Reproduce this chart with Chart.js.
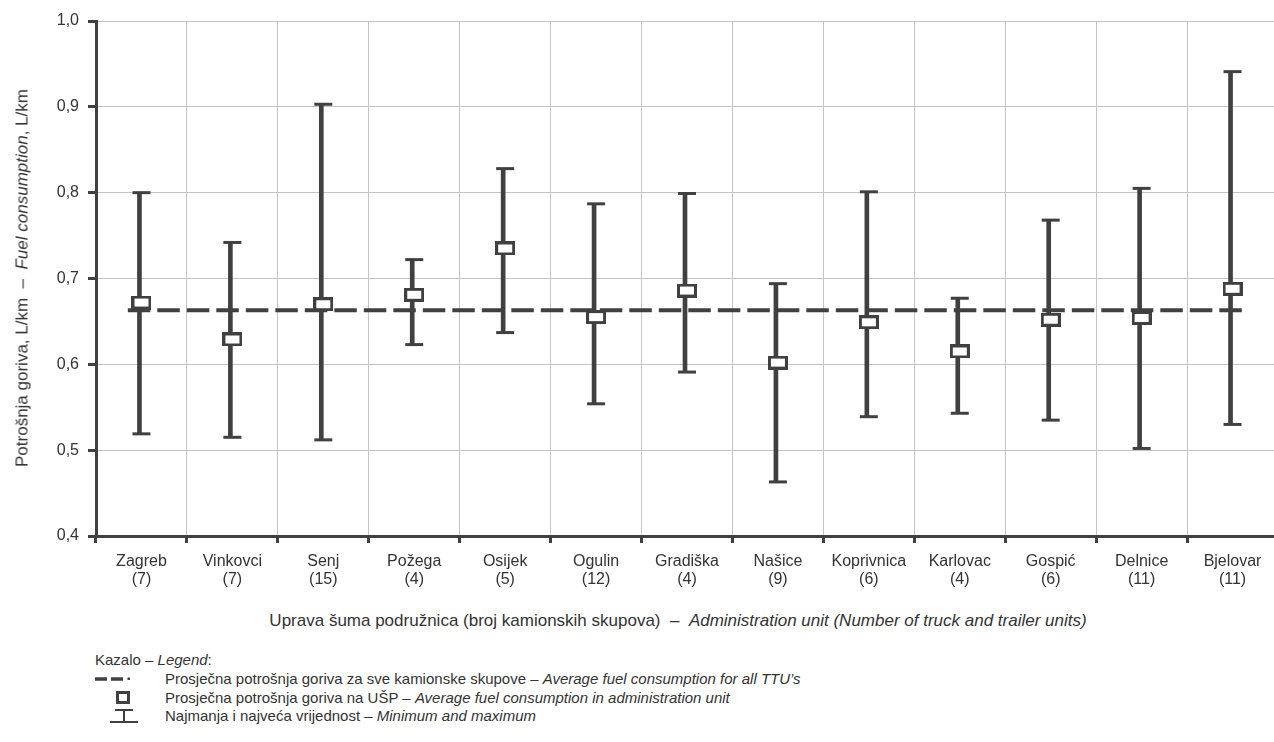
<!DOCTYPE html>
<html>
<head>
<meta charset="utf-8">
<script src="https://cdn.jsdelivr.net/npm/chart.js@4/dist/chart.umd.min.js"></script>
<style>
  html, body { margin:0; padding:0; background:#fff; overflow:hidden; }
  body { width:1274px; height:742px; position:relative; font-family:"Liberation Sans",Arial,sans-serif; color:#333; }
  #wrap { position:absolute; left:0; top:0; width:1290px; height:600px; }
  .t { position:absolute; white-space:nowrap; font-size:17px; line-height:19px; }
  #ytitle { left:22px; top:278px; transform:translate(-50%,-50%) rotate(-90deg); }
  #xtitle { left:678px; top:620px; transform:translate(-50%,-50%); }
  .leg { position:absolute; left:0; top:0; font-size:15px; }
  .legline { position:absolute; white-space:nowrap; line-height:18px; }
  svg { position:absolute; }
</style>
</head>
<body>
<div id="wrap"><canvas id="c"></canvas></div>
<div class="t" id="ytitle">Potrošnja goriva, L/km&nbsp;&nbsp;–&nbsp;&nbsp;<i>Fuel consumption</i>, L/km</div>
<div class="t" id="xtitle">Uprava šuma podružnica (broj kamionskih skupova)&nbsp;&nbsp;–&nbsp;&nbsp;<i>Administration unit (Number of truck and trailer units)</i></div>

<div class="leg">
  <div class="legline" style="left:95px;top:651px;">Kazalo – <i>Legend</i>:</div>
  <svg style="left:93px;top:670px" width="42" height="18"><line x1="2" y1="9" x2="14" y2="9" stroke="#404040" stroke-width="3.5"/><line x1="18" y1="9" x2="30" y2="9" stroke="#404040" stroke-width="3.5"/><rect x="34.5" y="7.5" width="2.5" height="2.5" fill="#404040"/></svg>
  <div class="legline" style="left:165px;top:670px;">Prosječna potrošnja goriva za sve kamionske skupove – <i>Average fuel consumption for all TTU’s</i></div>
  <svg style="left:114px;top:689px" width="18" height="18"><rect x="3.5" y="3.5" width="11" height="10" fill="#fff" stroke="#404040" stroke-width="3"/></svg>
  <div class="legline" style="left:165px;top:689px;">Prosječna potrošnja goriva na UŠP – <i>Average fuel consumption in administration unit</i></div>
  <svg style="left:108px;top:706px" width="34" height="20"><line x1="7" y1="4" x2="25" y2="4" stroke="#404040" stroke-width="2"/><line x1="16" y1="4" x2="16" y2="16" stroke="#404040" stroke-width="2"/><line x1="2" y1="16" x2="30" y2="16" stroke="#404040" stroke-width="2"/></svg>
  <div class="legline" style="left:165px;top:707px;">Najmanja i najveća vrijednost – <i>Minimum and maximum</i></div>
</div>

<script>
// ---- data ----
const units   = ["Zagreb","Vinkovci","Senj","Požega","Osijek","Ogulin","Gradiška","Našice","Koprivnica","Karlovac","Gospić","Delnice","Bjelovar"];
const counts  = [7, 7, 15, 4, 5, 12, 4, 9, 6, 4, 6, 11, 11];
const meanVals = [0.672, 0.629, 0.670, 0.681, 0.735, 0.655, 0.686, 0.602, 0.649, 0.615, 0.652, 0.654, 0.688];
const minVals  = [0.519, 0.515, 0.512, 0.623, 0.637, 0.554, 0.591, 0.463, 0.539, 0.543, 0.535, 0.502, 0.530];
const maxVals  = [0.800, 0.742, 0.903, 0.722, 0.828, 0.787, 0.799, 0.694, 0.801, 0.677, 0.768, 0.805, 0.941];
const overallAverage = 0.663;
const yTicks = [0.4, 0.5, 0.6, 0.7, 0.8, 0.9, 1.0];

const labels = units.map((u, i) => [u, "(" + counts[i] + ")"]);
const DARK = "#404040";
const FONT = "'Liberation Sans',Arial,sans-serif";

// marker image (rectangle, white fill, dark border)
const mk = document.createElement("canvas");
mk.width = 20; mk.height = 14;
(function(){
  const g = mk.getContext("2d");
  g.fillStyle = "#fff"; g.fillRect(0,0,20,14);
  g.strokeStyle = DARK; g.lineWidth = 3;
  g.strokeRect(1.5,1.5,17,11);
})();

const n = units.length;
new Chart(document.getElementById("c"), {
  data: {
    labels: labels,
    datasets: [
      { type: "bar", data: units.map((u,i)=>[minVals[i], maxVals[i]]), backgroundColor: DARK, borderWidth: 0, barThickness: 4, order: 4 },
      { type: "line", data: maxVals, showLine: false, pointStyle: "line", pointRadius: 9, pointBorderWidth: 3, pointBorderColor: DARK, order: 3 },
      { type: "line", data: minVals, showLine: false, pointStyle: "line", pointRadius: 9, pointBorderWidth: 3, pointBorderColor: DARK, order: 3 },
      { type: "line", xAxisID: "xAvg", data: [{x:-0.15, y:overallAverage},{x:n-1+0.15, y:overallAverage}], borderColor: DARK, borderWidth: 4, borderDash: [22.5, 7], pointRadius: 0, order: 2 },
      { type: "line", data: meanVals, showLine: false, pointStyle: mk, pointRadius: 10, order: 1 }
    ]
  },
  options: {
    responsive: true, maintainAspectRatio: false, animation: false,
    devicePixelRatio: 1,
    layout: { padding: { left: 0, right: 9, top: 21, bottom: 0 } },
    plugins: { legend: { display: false }, tooltip: { enabled: false } },
    scales: {
      x: {
        type: "category", offset: true,
        grid: { offset: true, color: "#c4c4c4", lineWidth: 1, tickLength: 7, tickColor: DARK, tickWidth: 3 },
        border: { color: DARK, width: 3 },
        ticks: { color: "#333", font: { family: FONT, size: 16, lineHeight: 1.1 }, padding: 10, maxRotation: 0, autoSkip: false },
        afterFit: s => { s.height = 64; }
      },
      xAvg: { type: "linear", display: false, min: -0.5, max: n - 0.5 },
      y: {
        min: 0.4, max: 1.0,
        afterBuildTicks: s => { s.ticks = yTicks.map(v => ({ value: v })); },
        grid: { color: "#c4c4c4", lineWidth: 1, tickLength: 8, tickColor: DARK, tickWidth: 3 },
        border: { color: DARK, width: 3 },
        ticks: { color: "#333", font: { family: FONT, size: 16 }, padding: 9,
                 callback: v => Number(v).toFixed(1).replace(".", ",") },
        afterFit: s => { s.width = 96; }
      }
    }
  }
});
</script>
</body>
</html>
